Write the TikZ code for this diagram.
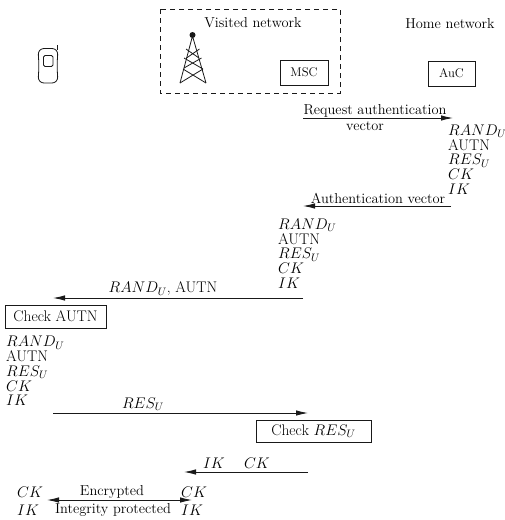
\RequirePackage{fix-cm}
\documentclass[tikz,border=0pt]{standalone}
\usetikzlibrary{arrows.meta}
\tikzset{
  lbl/.style={inner sep=0pt,text=black,font=\fontsize{14.4}{15}\selectfont},
  small/.style={inner sep=0pt,text=black,font=\fontsize{12.6}{14}\selectfont},
  stack/.style={inner sep=0pt,anchor=north west,align=left,text=black,font=\fontsize{15.4}{14.8}\selectfont},
  msg/.style={line width=0.9pt,black!90,-{Latex[length=12pt,width=5.5pt]}},
  bothmsg/.style={line width=0.9pt,black!90,{Latex[length=12pt,width=5.5pt]}-{Latex[length=12pt,width=5.5pt]}},
  solidbox/.style={draw=black!90,line width=1pt,inner sep=0pt,text=black},
  sym/.style={line width=0.8pt,black!90}
}
\begin{document}
\begin{tikzpicture}[x=1pt,y=-1pt]
\useasboundingbox (0,0) rectangle (505,520);
% network frame and labels
\draw[line width=0.9pt,black!90,dash pattern=on 5pt off 4pt] (160,9) rectangle (340,93);
\node[lbl] (visited) at (253,23) {Visited network};
\node[lbl] (home) at (450,24) {Home network};
\node[small,solidbox,minimum width=48pt,minimum height=25pt] (msc) at (304,72.5) {MSC};
\node[small,solidbox,minimum width=47pt,minimum height=25pt] (auc) at (451.5,73.5) {AuC};
% tower
\fill[black!90] (192.5,35) circle (3pt);
\draw[sym] (180,83) -- (192.5,36) -- (206,83);
\draw[sym] (186.5,58) -- (199.5,49) (186,49) -- (199,58);
\draw[sym] (184,68) -- (201.5,58) (184,58) -- (203,69);
\draw[sym] (180,83) -- (203,69) (206,83) -- (183,69);
% handset
\draw[sym] (57.5,45) -- (57.5,50);
\draw[sym,rounded corners=6pt] (43,48.5) -- (58,48.5) -- (57,66) -- (58,83) -- (38,83) -- (39,66) -- (38,48.5) -- (43,48.5);
\draw[sym,rounded corners=1.5pt] (43.5,55.5) rectangle (53,66.5);
% request
\coordinate (reqS) at (303,118);
\coordinate (reqE) at (453,118);
\draw[msg] (reqS) -- (reqE);
\node[lbl] (reqT) at (375,111) {Request authentication};
\node[lbl] (reqV) at (365,126) {vector};
\node[stack] (st1) at (448,124.5) {$RAND_U$\\AUTN\\$RES_U$\\$CK$\\$IK$};
% authentication vector
\coordinate (avS) at (451,206);
\coordinate (avE) at (303,206);
\draw[msg] (avS) -- (avE);
\node[lbl] (avT) at (378,198) {Authentication vector};
\node[stack] (st2) at (278,218.5) {$RAND_U$\\AUTN\\$RES_U$\\$CK$\\$IK$};
% challenge
\coordinate (chS) at (303,298);
\coordinate (chE) at (53,298);
\draw[msg] (chS) -- (chE);
\node[lbl,font=\fontsize{15.4}{16}\selectfont] (chT) at (163,289) {$RAND_U$, AUTN};
\node[solidbox,font=\fontsize{15.4}{16}\selectfont,minimum width=101pt,minimum height=23pt] (chk) at (55.5,316.5) {Check AUTN};
\node[stack] (st3) at (6,336) {$RAND_U$\\AUTN\\$RES_U$\\$CK$\\$IK$};
% response
\coordinate (reS) at (53,413);
\coordinate (reE) at (308,413);
\draw[msg] (reS) -- (reE);
\node[lbl,font=\fontsize{15.4}{16}\selectfont] (reT) at (143,404) {$RES_U$};
\node[solidbox,font=\fontsize{15.4}{16}\selectfont,minimum width=115pt,minimum height=22pt] (chkr) at (313.5,431) {Check $RES_U$};
% keys
\coordinate (kS) at (308,472);
\coordinate (kE) at (184,472);
\draw[msg] (kS) -- (kE);
\node[lbl,font=\fontsize{15.4}{16}\selectfont] (kI) at (214,463) {$IK$};
\node[lbl,font=\fontsize{15.4}{16}\selectfont] (kC) at (257,463) {$CK$};
% protected link
\node[lbl,font=\fontsize{15.4}{16}\selectfont,anchor=west] (cl) at (17,492) {$CK$};
\node[lbl,font=\fontsize{15.4}{16}\selectfont,anchor=west] (il) at (17,510) {$IK$};
\node[lbl,font=\fontsize{15.4}{16}\selectfont,anchor=west] (cr) at (181,492) {$CK$};
\node[lbl,font=\fontsize{15.4}{16}\selectfont,anchor=west] (ir) at (181,510) {$IK$};
\coordinate (pL) at (47,500);
\coordinate (pR) at (192,500);
\draw[bothmsg] (pL) -- (pR);
\node[lbl] (enc) at (112,492) {Encrypted};
\node[lbl] (intg) at (113,510) {Integrity protected};
\end{tikzpicture}
\end{document}
